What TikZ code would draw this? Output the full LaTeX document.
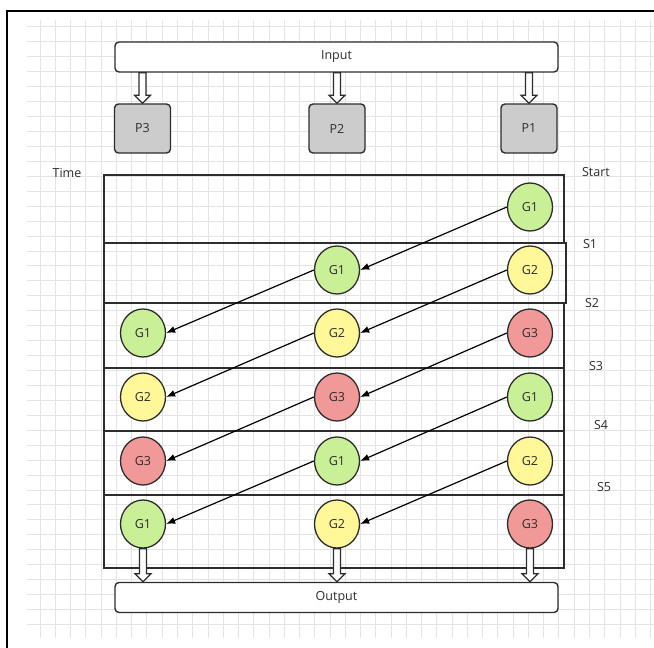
\documentclass[tikz,border=0pt]{standalone}
\usepackage{fontspec}
\setmainfont{Open Sans}
\usetikzlibrary{calc,arrows.meta,shapes.geometric}

\definecolor{gridc}{RGB}{228,228,228}
\definecolor{gone}{RGB}{201,240,150}
\definecolor{gtwo}{RGB}{255,247,152}
\definecolor{gthree}{RGB}{241,152,152}
\definecolor{pgray}{RGB}{204,204,204}
\definecolor{edge}{RGB}{45,45,45}
\definecolor{txt}{RGB}{45,45,45}

% hollow block arrow pointing down from coordinate #1 to tip coordinate #2
\newcommand{\hollowdown}[2]{%
  \draw[hollow] ($(#1)+(-3.5,0)$) -- ($(#2)+(-3.5,-8)$) -- ($(#2)+(-8,-8)$)
    -- (#2) -- ($(#2)+(8,-8)$) -- ($(#2)+(3.5,-8)$) -- ($(#1)+(3.5,0)$) -- cycle;}

\begin{document}
\begin{tikzpicture}[x=1pt,y=-1pt,
  font=\fontsize{12.5}{14}\selectfont,
  bar/.style={draw=edge, line width=1.4pt, rounded corners=4pt, fill=white,
    minimum width=443pt, minimum height=30pt, inner sep=0pt, text=txt},
  proc/.style={draw=edge, line width=1.4pt, rounded corners=4pt, fill=pgray,
    minimum width=56pt, minimum height=49pt, inner sep=0pt, text=txt},
  gen/.style={ellipse, draw=edge, line width=1.3pt, minimum width=45pt,
    minimum height=48pt, inner sep=0pt, text=txt},
  gA/.style={gen, fill=gone},
  gB/.style={gen, fill=gtwo},
  gC/.style={gen, fill=gthree},
  lbl/.style={inner sep=0pt, text=txt},
  rowbox/.style={draw=edge, line width=1.1pt},
  hollow/.style={draw=edge, line width=1.2pt, fill=white, line join=miter},
  flow/.style={draw=black, line width=1.2pt, -{Latex[length=9pt,width=7pt]}}
]
\useasboundingbox (0,0) rectangle (654,648);
\fill[white] (0,0) rectangle (654,648);

% background grid
\begin{scope}
  \clip (27,20) rectangle (654,638);
  \foreach \k in {-1,...,41} \draw[gridc, line width=0.7pt] (40+15.26*\k,20) -- (40+15.26*\k,638);
  \foreach \k in {-2,...,41} \draw[gridc, line width=0.7pt] (27,41.7+14.94*\k) -- (654,41.7+14.94*\k);
\end{scope}

% frame edges
\draw[black, line width=2pt] (7,648) -- (7,10.5) -- (654,10.5);

% input and processors
\node[bar] (in) at (336.5,57) {Input};
\node[proc] (p3) at (142.5,128.5) {P3};
\node[proc] (p2) at (337,128.5) {P2};
\node[proc] (p1) at (529,128.5) {P1};

\coordinate (a3) at (in.south -| p3.north);
\coordinate (a2) at (in.south -| p2.north);
\coordinate (a1) at (in.south -| p1.north);
\hollowdown{a3}{p3.north}
\hollowdown{a2}{p2.north}
\hollowdown{a1}{p1.north}

% time slots
\draw[rowbox] (104,175) rectangle (564,243);
\draw[rowbox] (104,243) rectangle (566,303);
\draw[rowbox] (104,303) rectangle (564,368);
\draw[rowbox] (104,368) rectangle (564,431);
\draw[rowbox] (104,431) rectangle (564,495);
\draw[rowbox] (104,495) rectangle (564,568);

\node[lbl] (time) at (67,173) {Time};
\node[lbl] (start) at (596,172) {Start};
\node[lbl] (s1) at (590,244) {S1};
\node[lbl] (s2) at (592,303) {S2};
\node[lbl] (s3) at (596,366) {S3};
\node[lbl] (s4) at (601,425) {S4};
\node[lbl] (s5) at (604,487) {S5};

% generations per slot
\node[gA] (c03) at (530,207) {G1};

\node[gA] (c12) at (337,270) {G1};
\node[gB] (c13) at (530,270) {G2};

\node[gA] (c21) at (143,333) {G1};
\node[gB] (c22) at (337,333) {G2};
\node[gC] (c23) at (530,333) {G3};

\node[gB] (c31) at (143,397) {G2};
\node[gC] (c32) at (337,397) {G3};
\node[gA] (c33) at (530,397) {G1};

\node[gC] (c41) at (143,461) {G3};
\node[gA] (c42) at (337,461) {G1};
\node[gB] (c43) at (530,461) {G2};

\node[gA] (c51) at (143,524) {G1};
\node[gB] (c52) at (337,524) {G2};
\node[gC] (c53) at (530,524) {G3};

% migration between processors
\draw[flow] (c03.west) -- (c12.east);
\draw[flow] (c12.west) -- (c21.east);
\draw[flow] (c13.west) -- (c22.east);
\draw[flow] (c22.west) -- (c31.east);
\draw[flow] (c23.west) -- (c32.east);
\draw[flow] (c32.west) -- (c41.east);
\draw[flow] (c33.west) -- (c42.east);
\draw[flow] (c42.west) -- (c51.east);
\draw[flow] (c43.west) -- (c52.east);

% output
\node[bar] (out) at (336.5,597.5) {Output};
\coordinate (b1) at (out.north -| c51.south);
\coordinate (b2) at (out.north -| c52.south);
\coordinate (b3) at (out.north -| c53.south);
\hollowdown{c51.south}{b1}
\hollowdown{c52.south}{b2}
\hollowdown{c53.south}{b3}
\end{tikzpicture}
\end{document}
